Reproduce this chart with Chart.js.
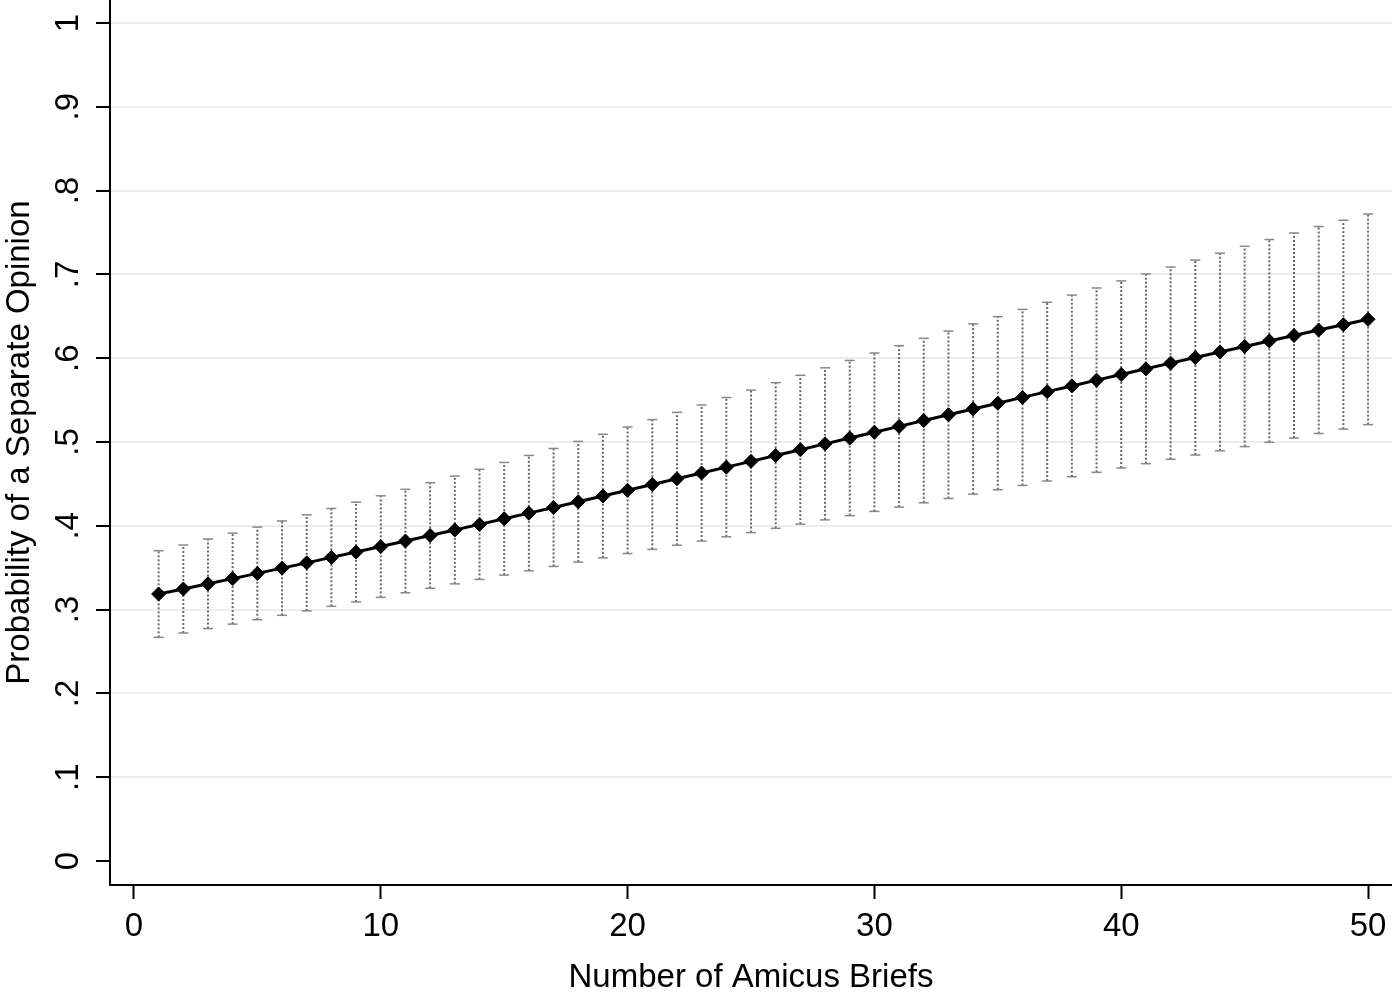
<!DOCTYPE html>
<html>
<head>
<meta charset="utf-8">
<script src="https://cdn.jsdelivr.net/npm/chart.js@4/dist/chart.umd.min.js"></script>
<style>
  html, body { margin: 0; padding: 0; background: #fff; }
</style>
</head>
<body>
<canvas id="myChart" width="1392" height="998"></canvas>
<script>
// number of amicus briefs
const briefs = [1, 2, 3, 4, 5, 6, 7, 8, 9, 10, 11, 12, 13, 14, 15, 16, 17, 18, 19, 20,
  21, 22, 23, 24, 25, 26, 27, 28, 29, 30, 31, 32, 33, 34, 35, 36, 37, 38, 39, 40,
  41, 42, 43, 44, 45, 46, 47, 48, 49, 50];

// predicted probability of a separate opinion
const prob = [.3186, .3246, .3308, .3370, .3432, .3495, .3558, .3623, .3687, .3752,
  .3818, .3884, .3950, .4017, .4084, .4151, .4219, .4287, .4355, .4424,
  .4493, .4561, .4630, .4700, .4769, .4839, .4908, .4978, .5047, .5117,
  .5186, .5256, .5325, .5394, .5463, .5532, .5601, .5669, .5738, .5806,
  .5873, .5941, .6008, .6074, .6140, .6206, .6271, .6336, .6400, .6464];

// confidence interval bounds
const lower = [.2669, .2721, .2774, .2827, .2879, .2932, .2985, .3039, .3092, .3146,
  .3201, .3254, .3307, .3360, .3412, .3463, .3515, .3567, .3618, .3669,
  .3719, .3768, .3818, .3869, .3919, .3970, .4020, .4071, .4121, .4172,
  .4223, .4275, .4326, .4378, .4430, .4482, .4534, .4585, .4638, .4690,
  .4741, .4794, .4845, .4895, .4945, .4996, .5048, .5101, .5154, .5207];
const upper = [.3703, .3771, .3842, .3913, .3985, .4058, .4131, .4207, .4282, .4358,
  .4435, .4514, .4593, .4674, .4756, .4839, .4923, .5007, .5092, .5179,
  .5267, .5354, .5442, .5531, .5619, .5708, .5796, .5885, .5973, .6062,
  .6149, .6237, .6324, .6410, .6496, .6582, .6668, .6753, .6838, .6922,
  .7005, .7088, .7171, .7253, .7335, .7416, .7494, .7571, .7646, .7721];

// axis ticks
const xTicks = [0, 10, 20, 30, 40, 50];
const yTicks = [0, .1, .2, .3, .4, .5, .6, .7, .8, .9, 1];
const yTickLabels = ['0', '.1', '.2', '.3', '.4', '.5', '.6', '.7', '.8', '.9', '1'];

const FONT = { family: '"Liberation Sans", Arial, Helvetica, sans-serif', size: 33 };

// main line
const datasets = [{
  label: 'Probability',
  data: briefs.map((b, i) => ({ x: b, y: prob[i] })),
  borderColor: '#000',
  backgroundColor: '#000',
  borderWidth: 3,
  pointStyle: 'rectRot',
  pointRadius: 7,
  pointBorderWidth: 1,
  order: 0
}];

// one small dotted line per CI
briefs.forEach((b, i) => {
  datasets.push({
    data: [{ x: b, y: lower[i] }, { x: b, y: upper[i] }],
    borderColor: '#666',
    backgroundColor: '#777',
    borderWidth: 2,
    borderDash: [2, 2],
    pointStyle: 'line',
    pointRadius: 5,
    pointBorderWidth: 1.5,
    pointBorderColor: '#888',
    order: 1
  });
});

var ctx = document.getElementById('myChart').getContext('2d');
var chart = new Chart(ctx, {
  type: 'line',
  data: { datasets: datasets },
  options: {
    responsive: false,
    animation: false,
    devicePixelRatio: 1,
    layout: { padding: 0, autoPadding: false },
    plugins: { legend: { display: false }, tooltip: { enabled: false } },
    scales: {
      x: {
        type: 'linear',
        min: -0.97,
        max: 50.97,
        afterBuildTicks: s => { s.ticks = xTicks.map(v => ({ value: v })); },
        afterFit: s => { s.height = 113; s.paddingLeft = 0; s.paddingRight = 0; },
        grid: { drawOnChartArea: false, tickLength: 14, tickColor: '#000', tickWidth: 2 },
        border: { color: '#000', width: 2 },
        ticks: { color: '#000', font: FONT, padding: 8, maxRotation: 0 },
        title: { display: true, text: 'Number of Amicus Briefs', color: '#000', font: FONT, padding: { top: 0, bottom: 0 } }
      },
      y: {
        type: 'linear',
        min: -0.0286,
        max: 1.0274,
        afterBuildTicks: s => { s.ticks = yTicks.map(v => ({ value: v })); },
        afterFit: s => { s.width = 110; s.paddingTop = 0; s.paddingBottom = 0; },
        grid: {
          color: c => (c.tick && c.tick.value === 0 ? 'rgba(0,0,0,0)' : '#ededed'),
          lineWidth: 2,
          tickLength: 14,
          tickColor: '#000',
          tickWidth: 2
        },
        border: { color: '#000', width: 2 },
        ticks: {
          color: '#000',
          font: FONT,
          padding: 13,
          minRotation: 90,
          maxRotation: 90,
          crossAlign: 'center',
          callback: (v, i) => yTickLabels[i]
        },
        title: { display: true, text: 'Probability of a Separate Opinion', color: '#000', font: FONT, padding: 0 }
      }
    }
  }
});
</script>
</body>
</html>
